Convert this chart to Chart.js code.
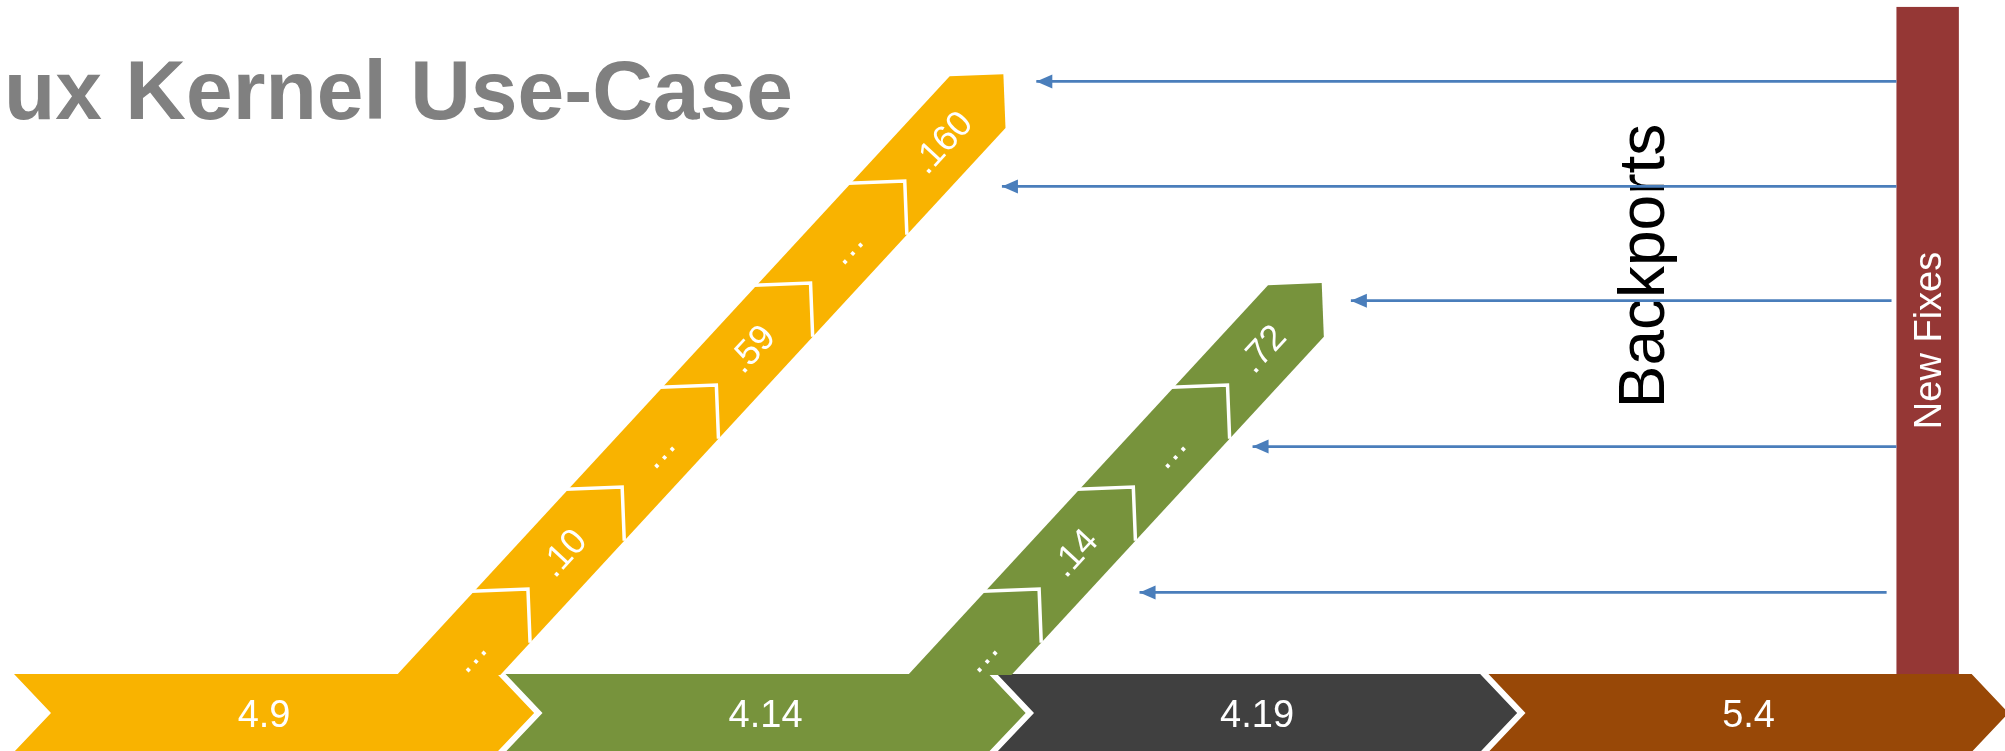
<!DOCTYPE html>
<html>
<head>
<meta charset="utf-8">
<script src="https://cdn.jsdelivr.net/npm/chart.js@4.4.1/dist/chart.umd.min.js"></script>
<style>
html, body { margin: 0; padding: 0; background: #fff; overflow: hidden; }
#chart { display: block; }
</style>
</head>
<body>
<canvas id="chart" width="2005" height="751"></canvas>
<script>
// mainline releases along the bottom row (one slot each)
const mainline = ['4.9', '4.14', '4.19', '5.4'];
const mainlineColors = ['#F9B300', '#77933C', '#404040', '#984807'];

// long-term stable branches climbing out of the row
const branchOf = [0, 1];              // which mainline release
const branchFork = [0.886, 1.926];    // slot where the branch leaves the row
const branchTop = [5.88, 3.833];      // level reached by the last step
const branch49 = ['…', '.10', '…', '.59', '…', '.160'];
const branch414 = ['…', '.14', '…', '.72'];
const branchLabels = [branch49, branch414];

// backports coming from the new fixes (level = height, slots = from / to)
const backportLevel = [5.81, 4.78, 3.66, 2.23, 0.80];
const backportFrom = [3.83, 3.83, 3.82, 3.83, 3.81];
const backportTo = [2.08, 2.01, 2.72, 2.52, 2.29];

// "New Fixes" column standing on 5.4
const fixesSpan = [3.83, 3.957];
const fixesTop = 6.54;

const titleText = 'ux Kernel Use-Case';

// layout / style
const FONT = '"Liberation Sans", Arial, sans-serif';
const SLOT_W = 0.983;     // chevron body width in slots
const TIP = 37;           // chevron point depth, px
const BAR_H = 78;         // chevron row height, px
const LEAN = 0.19166;     // branch lean, slots per level
const FIRST_TIP = 0.833;  // level of the first step tip
const HALF_W = 38;        // half width of a branch band, px

const diagram = {
    id: 'diagram',
    beforeDatasetsDraw(chart) {
        const ctx = chart.ctx
        const xs = chart.scales.x, ys = chart.scales.y
        const X = v => xs.getPixelForValue(v)
        const Y = v => ys.getPixelForValue(v)
        ctx.save()

        // title
        ctx.fillStyle = '#808080'
        ctx.font = 'bold 84px ' + FONT
        ctx.textAlign = 'left'
        ctx.textBaseline = 'alphabetic'
        ctx.fillText(titleText, 4, 119)

        // bottom row of chevrons
        const yTop = Y(0), yBot = Y(0) + BAR_H, yMid = (yTop + yBot) / 2
        mainline.forEach((name, i) => {
            const x0 = X(i), x1 = X(i + SLOT_W)
            ctx.beginPath()
            ctx.moveTo(x0, yTop)
            ctx.lineTo(x1, yTop)
            ctx.lineTo(x1 + TIP, yMid)
            ctx.lineTo(x1, yBot)
            ctx.lineTo(x0, yBot)
            ctx.lineTo(x0 + TIP, yMid)
            ctx.closePath()
            ctx.fillStyle = mainlineColors[i]
            ctx.fill()
        })
        ctx.fillStyle = '#fff'
        ctx.font = '38px ' + FONT
        ctx.textAlign = 'center'
        mainline.forEach((name, i) => {
            const x0 = X(i), x1 = X(i + SLOT_W)
            ctx.fillText(name, (x0 + x1 + TIP) / 2 - (i === 0 ? 10 : 0), yMid + 0.36 * 38)
        })

        // stable branches
        branchLabels.forEach((labels, b) => {
            const pt = L => ({x: X(branchFork[b] + LEAN * L), y: Y(L)})
            const p0 = pt(0), p1 = pt(1)
            const len = Math.hypot(p1.x - p0.x, p1.y - p0.y)
            const a = {x: (p1.x - p0.x) / len, y: (p1.y - p0.y) / len}
            const n = {x: -a.y, y: a.x}
            const off = (p, s, t) => ({x: p.x + s * a.x + t * n.x, y: p.y + s * a.y + t * n.y})
            const N = labels.length
            const tips = labels.map((l, k) => pt(k === N - 1 ? branchTop[b] : FIRST_TIP + k))
            const top = tips[N - 1]
            const yb = yTop + 1
            const edgeAt = (t) => {
                const q = off(top, 0, t)
                const s = (yb - q.y) / a.y
                return off(q, s, 0)
            }
            ctx.beginPath()
            const bl = edgeAt(-HALF_W), br = edgeAt(HALF_W)
            const ul = off(top, -HALF_W, -HALF_W), lr = off(top, -HALF_W, HALF_W)
            ctx.moveTo(bl.x, bl.y)
            ctx.lineTo(ul.x, ul.y)
            ctx.lineTo(top.x, top.y)
            ctx.lineTo(lr.x, lr.y)
            ctx.lineTo(br.x, br.y)
            ctx.closePath()
            ctx.fillStyle = mainlineColors[branchOf[b]]
            ctx.fill()

            // step outlines
            ctx.strokeStyle = '#fff'
            ctx.lineWidth = 3.5
            ctx.lineJoin = 'miter'
            for (let k = 0; k < N - 1; k++) {
                const p = tips[k]
                const u = off(p, -HALF_W - 2, -HALF_W - 2)
                const r = off(p, -HALF_W, HALF_W)
                ctx.beginPath()
                ctx.moveTo(u.x, u.y)
                ctx.lineTo(p.x, p.y)
                ctx.lineTo(r.x, r.y)
                ctx.stroke()
            }

            // step labels
            const ang = Math.atan2(a.y, a.x)
            ctx.fillStyle = '#fff'
            ctx.font = '36px ' + FONT
            ctx.textAlign = 'center'
            labels.forEach((label, j) => {
                const prev = pt(FIRST_TIP + j - 1), cur = tips[j]
                const mid = off({x: (prev.x + cur.x) / 2, y: (prev.y + cur.y) / 2}, -HALF_W / 2, 0)
                ctx.save()
                ctx.translate(mid.x, mid.y)
                ctx.rotate(ang)
                ctx.fillText(label, 0, 0.36 * 36)
                ctx.restore()
            })
        })

        // new fixes column
        const fx0 = X(fixesSpan[0]), fx1 = X(fixesSpan[1])
        ctx.fillStyle = '#953735'
        ctx.fillRect(fx0, Y(fixesTop), fx1 - fx0, Y(0) - Y(fixesTop))
        ctx.save()
        ctx.translate((fx0 + fx1) / 2, (Y(fixesTop) + Y(0)) / 2)
        ctx.rotate(-Math.PI / 2)
        ctx.fillStyle = '#fff'
        ctx.font = '38px ' + FONT
        ctx.textAlign = 'center'
        ctx.fillText('New Fixes', 0, 0.36 * 38)
        ctx.restore()

        // backports label
        ctx.save()
        ctx.translate(X(3.31), Y(4.0))
        ctx.rotate(-Math.PI / 2)
        ctx.fillStyle = '#000'
        ctx.font = '64px ' + FONT
        ctx.textAlign = 'center'
        ctx.fillText('Backports', 0, 0.36 * 64)
        ctx.restore()

        ctx.restore()
    },
    afterDatasetsDraw(chart) {
        const ctx = chart.ctx
        ctx.save()
        ctx.fillStyle = '#4A7EBB'
        chart.data.datasets.forEach((ds, i) => {
            const head = chart.getDatasetMeta(i).data[1]
            ctx.beginPath()
            ctx.moveTo(head.x, head.y)
            ctx.lineTo(head.x + 16, head.y - 7)
            ctx.lineTo(head.x + 16, head.y + 7)
            ctx.closePath()
            ctx.fill()
        })
        ctx.restore()
    }
}

const canvas = document.getElementById('chart')
new Chart(canvas.getContext('2d'), {
    type: 'scatter',
    data: {
        datasets: backportLevel.map((lv, i) => ({
            label: 'backport ' + (i + 1),
            data: [{x: backportFrom[i], y: lv}, {x: backportTo[i], y: lv}],
            showLine: true,
            borderColor: '#4A7EBB',
            borderWidth: 2.8,
            pointRadius: 0,
            fill: false
        }))
    },
    options: {
        responsive: false,
        animation: false,
        devicePixelRatio: 1,
        events: [],
        layout: { padding: 0 },
        plugins: {
            legend: { display: false },
            tooltip: { enabled: false }
        },
        scales: {
            // 1 slot = 491.5px starting at 14px, 1 level = 102px above the row top at 674px
            x: { type: 'linear', display: false, min: -14 / 491.5, max: 1991 / 491.5 },
            y: { type: 'linear', display: false, min: -77 / 102, max: 674 / 102 }
        }
    },
    plugins: [diagram]
})
</script>
</body>
</html>
